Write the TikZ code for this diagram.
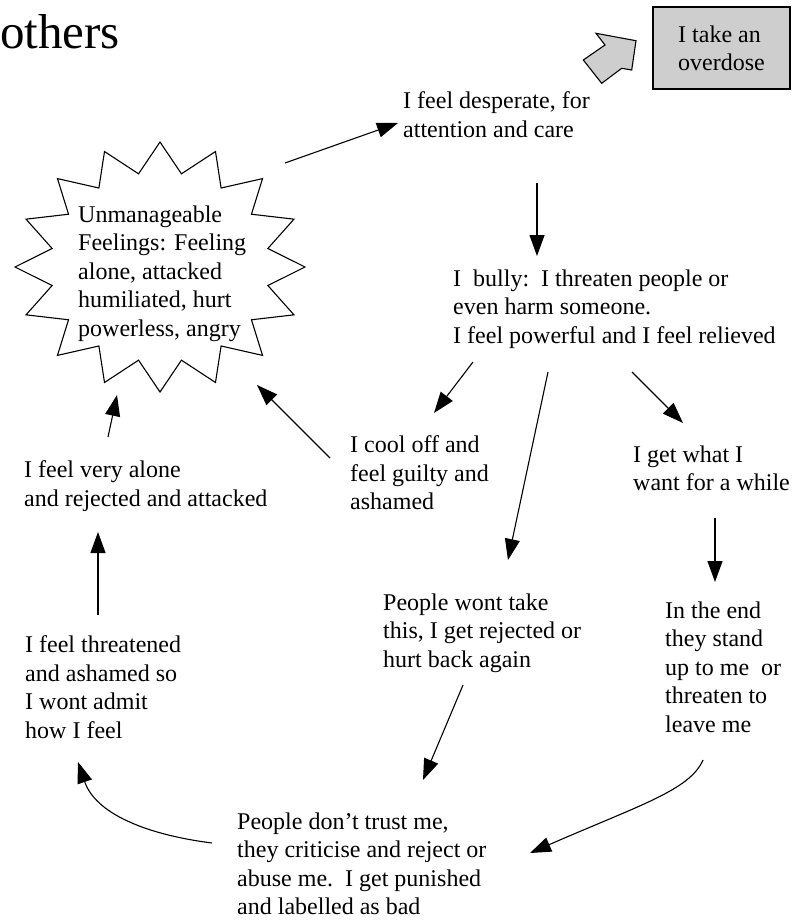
\documentclass[tikz,border=0pt]{standalone}
\usepackage{fontspec}
\setmainfont{Liberation Serif}
\usetikzlibrary{arrows.meta,calc}
\definecolor{boxgray}{RGB}{206,206,206}
\begin{document}
\begin{tikzpicture}[x=1pt,y=-1pt,
  txt/.style={anchor=north west, inner sep=0pt, align=left,
              font=\fontsize{24}{28.5}\selectfont},
  flow/.style={-{Triangle[length=21pt,width=15pt]}, line width=1.1pt},
  outline/.style={line width=1.1pt, line join=miter}]
\useasboundingbox (0,0) rectangle (792,921);

% heading fragment
\node[anchor=base east, inner sep=0pt, font=\fontsize{49}{53}\selectfont] (head) at (120,48) {others};

% overdose box and its block arrow
\node[draw, fill=boxgray, outline, minimum width=137pt, minimum height=82pt,
      inner sep=0pt, align=left, font=\fontsize{24}{28}\selectfont] (od) at (721.5,48) {I take an\\overdose};
\filldraw[fill=boxgray, outline] (596,33.3) -- (636,40.7) -- (631.7,70) -- (621.7,68.3)
  -- (601.7,83.3) -- (583.3,60) -- (605,45) -- cycle;

% starburst of feelings
\coordinate (burst) at (160,267);
\draw[outline, shift={(burst)}] (90:145 and 125)
  \foreach \k in {0,...,15} { -- ({101.25+\k*22.5}:110 and 95) -- ({112.5+\k*22.5}:145 and 125) } -- cycle;
\node[txt] (feel) at (78,205.6) {Unmanageable\\Feelings: Feeling\\alone, attacked\\humiliated, hurt\\powerless, angry};

% the cycle of statements
\node[txt] (desp)   at (403,91.6)  {I feel desperate, for\\attention and care};
\node[txt] (bully)  at (453,269.6) {I\ \ bully:\ \ I threaten people or\\even harm someone.\\I feel powerful and I feel relieved};
\node[txt] (cool)   at (350,435.6) {I cool off and\\feel guilty and\\ashamed};
\node[txt] (want)   at (633,445.6) {I get what I\\want for a while};
\node[txt] (wont)   at (383,593.6) {People wont take\\this, I get rejected or\\hurt back again};
\node[txt] (endn)   at (665,601.6) {In the end\\they stand\\up to me\ \ or\\threaten to\\leave me};
\node[txt] (trust)  at (237,812.6) {People don't trust me,\\they criticise and reject or\\abuse me.\ \ I get punished\\and labelled as bad};
\node[txt] (threat) at (25,635.6)  {I feel threatened\\and ashamed so\\I wont admit\\how I feel};
\node[txt] (alone)  at (24,460.6)  {I feel very alone\\and rejected and attacked};

% connectors
\draw[flow] ($(burst)+(125,-104)$) -- ($(desp.north west)+(-5,31.4)$);
\draw[flow] ($(desp.north west)+(134,91.4)$) -- ($(bully.north west)+(84,-13.6)$);
\draw[flow] ($(bully.north west)+(20,92.4)$) -- ($(cool.north west)+(84,-22.6)$);
\draw[flow] ($(bully.north west)+(95,102.4)$) -- ($(wont.north west)+(125,-33.6)$);
\draw[flow] ($(bully.north west)+(179,102.4)$) -- ($(want.north west)+(50,-22.6)$);
\draw[flow] ($(want.north west)+(82,72.4)$) -- ($(endn.north west)+(50,-19.6)$);
\draw[flow] ($(endn.north west)+(38,158.4)$) .. controls +(-13,30) and +(110,-48) .. ($(trust.north west)+(293,40.4)$);
\draw[flow] ($(wont.north west)+(80,91.4)$) -- ($(trust.north west)+(186,-32.6)$);
\draw[flow] ($(trust.north west)+(-25,30.4)$) .. controls +(-70,-9) and +(17,50) .. ($(threat.north west)+(53,126.4)$);
\draw[flow] ($(threat.north west)+(73,-20.6)$) -- ($(alone.north west)+(74,71.4)$);
\draw[flow] ($(alone.north west)+(84,-23.6)$) -- ($(burst)+(-43,128)$);
\draw[flow] ($(cool.north west)+(-20,22.4)$) -- ($(burst)+(97,118)$);
\end{tikzpicture}
\end{document}
